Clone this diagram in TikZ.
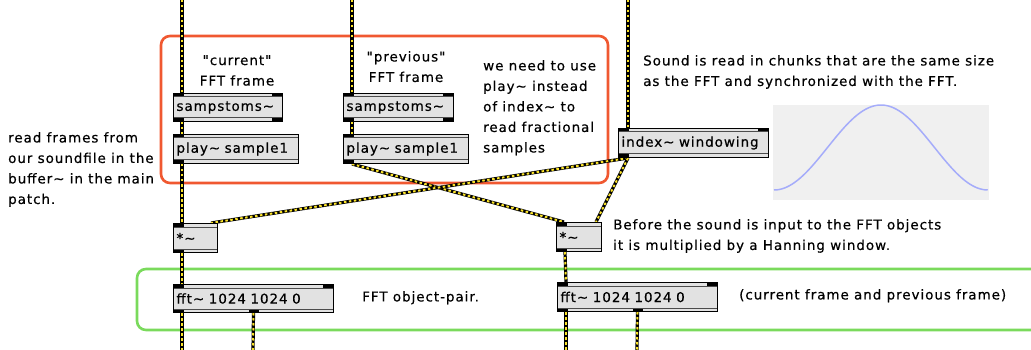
\documentclass[tikz,border=0pt]{standalone}
\usepackage{fontspec}
\setmainfont{DejaVu Sans}[LetterSpace=7, Ligatures=TeXOff, FakeBold=0.4]
\usetikzlibrary{calc,backgrounds}
\newcommand\tld{\textasciitilde}
\definecolor{frameRed}{RGB}{240,88,48}
\definecolor{frameGreen}{RGB}{122,218,92}
\definecolor{boxgray}{RGB}{226,226,226}
\definecolor{cordYellow}{RGB}{250,226,40}
\definecolor{plotBg}{RGB}{240,240,240}
\definecolor{plotLine}{RGB}{165,172,250}
\tikzset{
  txt/.style={font=\fontsize{13.5}{20.5}\selectfont, inner sep=0pt, align=left, anchor=north west},
  maxobj/.style={draw=black, line width=1pt, fill=boxgray, inner xsep=3pt, inner ysep=0pt,
    anchor=north west, align=left, font=\fontsize{13.5}{15}\selectfont,
    path picture={
      \draw[black!70, line width=1pt]
        ([yshift=-3.5pt]path picture bounding box.north west) -- ([yshift=-3.5pt]path picture bounding box.north east);
      \draw[black!70, line width=1pt]
        ([yshift=3.5pt]path picture bounding box.south west) -- ([yshift=3.5pt]path picture bounding box.south east);
    }},
  portfill/.style={fill=black},
  cord/.style={draw=black, line width=3.2pt,
    postaction={draw=cordYellow, line width=2pt, dash pattern=on 2.5pt off 2.5pt}},
  frame/.style={line width=2.6pt, rounded corners=9pt},
}
\newcommand\portTL[1]{\fill[portfill] (#1.north west) rectangle ++(11,3.5);}
\newcommand\portTR[1]{\fill[portfill] (#1.north east) rectangle ++(-11,3.5);}
\newcommand\portBL[1]{\fill[portfill] (#1.south west) rectangle ++(11,-3.5);}
\newcommand\portBR[1]{\fill[portfill] (#1.south east) rectangle ++(-11,-3.5);}
\newcommand\portBM[1]{\fill[portfill] ($(#1.south)+(-5,0)$) rectangle ++(10,-3.5);}
\begin{document}
\begin{tikzpicture}[x=1pt,y=-1pt]
\useasboundingbox (0,0) rectangle (1031,350);

% objects
\node[maxobj, text width=103pt, minimum height=28pt] (samp1) at (173,93) {sampstoms\tld};
\node[maxobj, text width=119pt, minimum height=29pt] (play1) at (173,134) {play\tld{} sample1};
\node[maxobj, text width=104pt, minimum height=28pt] (samp2) at (343,93) {sampstoms\tld};
\node[maxobj, text width=119pt, minimum height=29pt] (play2) at (343,134) {play\tld{} sample1};
\node[maxobj, text width=144pt, minimum height=29pt] (index) at (618,128) {index\tld{} windowing};
\node[maxobj, text width=38pt, minimum height=29pt] (mul1) at (173,223) {*\tld};
\node[maxobj, text width=39pt, minimum height=29pt] (mul2) at (556,222) {*\tld};
\node[maxobj, text width=154pt, minimum height=28pt] (fft1) at (173,284) {fft\tld{} 1024 1024 0};
\node[maxobj, text width=154pt, minimum height=29pt] (fft2) at (557,282) {fft\tld{} 1024 1024 0};

% ports
\portTL{samp1}\portTR{samp1}\portBL{samp1}\portBR{samp1}
\portTL{samp2}\portTR{samp2}\portBL{samp2}\portBR{samp2}
\portTL{play1}\portBL{play1}
\portTL{play2}\portBL{play2}
\portTL{index}\portTR{index}\portBL{index}
\portTL{mul1}\portBL{mul1}
\portTL{mul2}\portBL{mul2}
\portTL{fft1}\portTR{fft1}\portBL{fft1}\portBM{fft1}
\portTL{fft2}\portTR{fft2}\portBL{fft2}\portBM{fft2}

% free ends of the patch cords
\coordinate (t1) at (182,0);
\coordinate (t2) at (352,0);
\coordinate (t3) at (628,0);
\coordinate (b1) at (182,350);
\coordinate (b2) at (253,350);
\coordinate (b3) at (566,350);
\coordinate (b4) at (637,350);

\begin{scope}[on background layer]
  % group frames
  \draw[frame, frameRed] (161,36) rectangle (608,183);
  \draw[frame, frameGreen] (1045,269) -- (137,269) -- (137,330) -- (1045,330);
  % window display
  \fill[plotBg] (773,105) rectangle (989,200);
  \draw[plotLine, line width=1.5pt] plot[domain=0:1, samples=120]
    ({774+214*\x}, {190-85*(0.5-0.5*cos(360*\x))});
  % patch cords
  \draw[cord] (t1) -- ($(samp1.north west)+(9,0)$);
  \draw[cord] ($(samp1.south west)+(9,0)$) -- ($(play1.north west)+(9,0)$);
  \draw[cord] ($(play1.south west)+(9,0)$) -- ($(mul1.north west)+(9,0)$);
  \draw[cord] ($(mul1.south west)+(9,0)$) -- ($(fft1.north west)+(9,0)$);
  \draw[cord] ($(fft1.south west)+(9,0)$) -- (b1);
  \draw[cord] (fft1.south) -- (b2);
  \draw[cord] (t2) -- ($(samp2.north west)+(9,0)$);
  \draw[cord] ($(samp2.south west)+(9,0)$) -- ($(play2.north west)+(9,0)$);
  \draw[cord] ($(play2.south west)+(9,0)$) -- ($(mul2.north west)+(8,0)$);
  \draw[cord] (t3) -- ($(index.north west)+(10,0)$);
  \draw[cord] ($(index.south west)+(10,0)$) -- ($(mul1.north east)+(-7,0)$);
  \draw[cord] ($(index.south west)+(10,0)$) -- ($(mul2.north east)+(-6,0)$);
  \draw[cord] ($(mul2.south west)+(9,0)$) -- ($(fft2.north west)+(9,0)$);
  \draw[cord] ($(fft2.south west)+(9,0)$) -- (b3);
  \draw[cord] (fft2.south) -- (b4);
\end{scope}

% comments
\node[txt, align=center, anchor=north] (curlbl) at (237,55) {"current"\\FFT frame};
\node[txt, align=center, anchor=north] (prevlbl) at (406,51) {"previous"\\FFT frame};
\node[txt] (playnote) at (483,60) {we need to use\\play\tld{} instead\\of index\tld{} to\\read fractional\\samples};
\node[txt] (soundnote) at (643,55) {Sound is read in chunks that are the same size\\as the FFT and synchronized with the FFT.};
\node[txt] (readnote) at (8,132) {read frames from\\our soundfile in the\\buffer\tld{} in the main\\patch.};
\node[txt] (pairnote) at (362,291) {FFT object-pair.};
\node[txt] (framenote) at (739,289) {(current frame and previous frame)};
\node[txt] (winnote) at (613,219) {Before the sound is input to the FFT objects\\it is multiplied by a Hanning window.};
\end{tikzpicture}
\end{document}
